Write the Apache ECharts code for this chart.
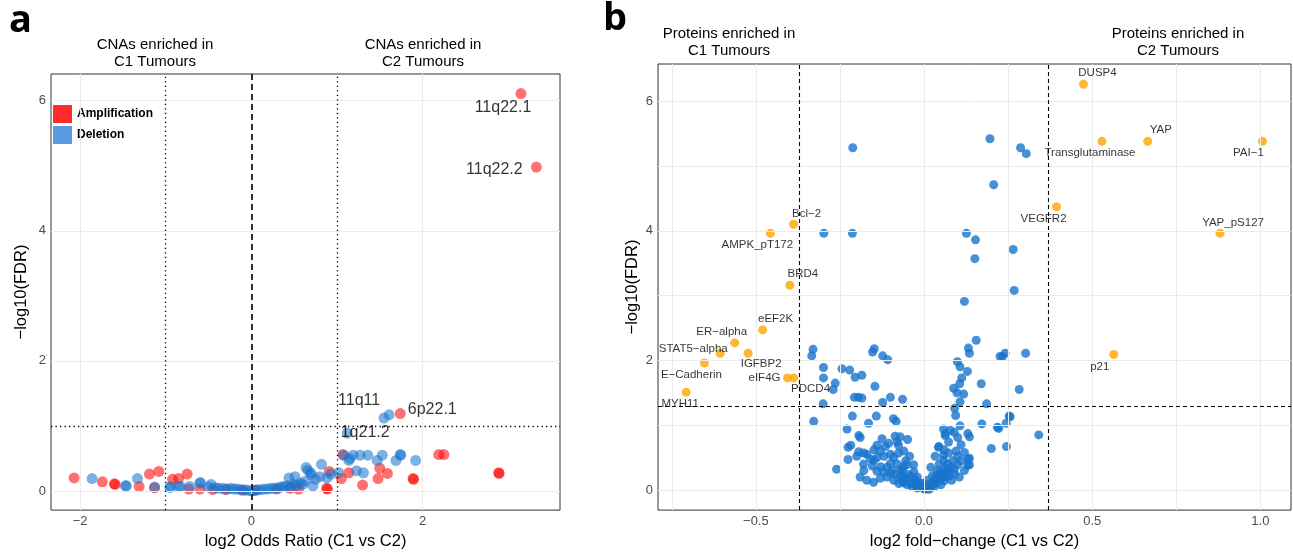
<!DOCTYPE html>
<html>
<head>
<meta charset="utf-8">
<script src="https://cdn.jsdelivr.net/npm/echarts@6/dist/echarts.min.js"></script>
<style>
html, body { margin: 0; padding: 0; background: #fff; }
#chart { width: 1293px; height: 555px; }
</style>
</head>
<body>
<div id="chart"></div>
<script>
// ---- panel a : CNA volcano (log2 odds ratio, -log10 FDR) ----
var ampPoints = [
  [-2.07,0.20],[-1.74,0.14],[-1.60,0.11],[-1.59,0.10],[-1.31,0.07],[-1.19,0.26],[-1.08,0.30],
  [-1.13,0.05],[-0.92,0.18],[-0.85,0.19],[-0.75,0.26],[-0.73,0.03],[-0.60,0.03],[-0.45,0.02],
  [-0.30,0.02],[-0.10,0.01],[0.05,0.01],[0.30,0.03],[0.45,0.04],[0.55,0.03],[0.88,0.04],
  [0.89,0.03],[0.91,0.30],[1.05,0.19],[1.07,0.56],[1.14,0.28],[1.30,0.09],[1.48,0.19],
  [1.50,0.35],[1.59,0.27],[1.74,1.19],[1.89,0.19],[1.895,0.18],[2.19,0.56],[2.25,0.56],
  [2.89,0.28],[2.895,0.27],[3.15,6.11],[3.33,4.98]
];
var delPoints = [
  [-1.86,0.19],[-1.47,0.08],[-1.46,0.08],[-1.33,0.19],[-1.13,0.06],[-0.95,0.05],[-0.945,0.07],
  [-0.85,0.07],[-0.83,0.07],[-0.72,0.07],[-0.60,0.12],[-0.595,0.13],[-0.50,0.06],[-0.47,0.10],
  [-0.42,0.05],[-0.38,0.04],[-0.33,0.04],[-0.28,0.03],[-0.24,0.04],[-0.20,0.03],[-0.16,0.03],
  [-0.12,0.02],[-0.08,0.02],[-0.04,0.01],[0,0],[0.03,0.01],[0.07,0.02],[0.11,0.02],[0.15,0.03],
  [0.19,0.03],[0.23,0.04],[0.27,0.04],[0.31,0.05],[0.35,0.06],[0.38,0.07],[0.42,0.08],[0.44,0.20],
  [0.46,0.06],[0.50,0.10],[0.51,0.22],[0.53,0.08],[0.57,0.12],[0.60,0.10],[0.63,0.15],[0.64,0.36],
  [0.66,0.32],[0.69,0.28],[0.70,0.25],[0.72,0.08],[0.75,0.18],[0.80,0.22],[0.82,0.41],[0.885,0.20],
  [0.93,0.26],[1.02,0.28],[1.08,0.55],[1.12,0.89],[1.14,0.47],[1.15,0.50],[1.19,0.55],[1.23,0.31],
  [1.27,0.55],[1.31,0.28],[1.36,0.55],[1.47,0.47],[1.53,0.55],[1.55,1.12],[1.61,1.17],[1.69,0.47],
  [1.74,0.56],[1.745,0.55],[1.92,0.47]
];
var cnaLabelNames = ['11q22.1', '11q22.2', '6p22.1', '11q11', '1q21.2'];
var cnaLabelX = [3.15, 3.33, 1.74, 1.61, 1.12];
var cnaLabelY = [6.11, 4.98, 1.19, 1.17, 0.89];
var aTicksX = [-2, 0, 2];
var aTicksY = [0, 2, 4, 6];

// ---- panel b : protein volcano (log2 fold-change, -log10 FDR) ----
var protNames = ['DUSP4','Transglutaminase','YAP','PAI\u22121','VEGFR2','YAP_pS127','p21',
  'Bcl\u22122','AMPK_pT172','BRD4','eEF2K','ER\u2212alpha','STAT5\u2212alpha','IGFBP2',
  'E\u2212Cadherin','eIF4G','PDCD4','MYH11'];
var protX = [0.474,0.529,0.665,1.006,0.394,0.880,0.564,-0.388,-0.457,-0.399,-0.480,-0.563,-0.606,-0.523,-0.653,-0.406,-0.388,-0.707];
var protY = [6.26,5.38,5.38,5.38,4.37,3.96,2.09,4.10,3.96,3.16,2.47,2.27,2.11,2.11,1.96,1.73,1.73,1.51];
var otherProteins = [
  [-0.212,5.28],[0.196,5.42],[0.287,5.28],[0.304,5.19],[0.207,4.71],
  [-0.298,3.96],[-0.213,3.96],[0.126,3.96],[0.153,3.86],[0.265,3.71],[0.151,3.57],[0.268,3.08],[0.120,2.91],
  [0.155,2.31],[0.132,2.19],[0.135,2.11],[0.241,2.11],[0.233,2.06],[0.226,2.06],[0.302,2.11],[0.099,1.98],
  [0.107,1.90],[0.129,1.83],[0.112,1.73],[0.106,1.64],[0.170,1.64],[0.088,1.57],[0.098,1.50],[0.118,1.48],
  [0.283,1.55],[0.107,1.36],[0.186,1.33],[0.091,1.26],[0.094,1.15],[0.253,1.14],[0.256,1.13],[0.172,1.02],
  [0.107,0.99],[0.244,1.03],[0.222,0.95],[0.218,0.97],[0.341,0.85],[0.200,0.64],[0.245,0.67],
  [-0.330,2.17],[-0.334,2.07],[-0.153,2.13],[-0.148,2.18],[-0.123,2.07],[-0.108,2.01],[-0.299,1.89],
  [-0.244,1.87],[-0.221,1.85],[-0.299,1.73],[-0.205,1.74],[-0.185,1.77],[-0.264,1.65],[-0.270,1.55],
  [-0.146,1.60],[-0.207,1.43],[-0.195,1.43],[-0.185,1.42],[-0.100,1.43],[-0.064,1.40],[-0.123,1.35],
  [-0.300,1.33],[-0.328,1.06],[-0.213,1.14],[-0.142,1.14],[-0.165,1.03],[-0.091,1.10],[-0.083,1.06],
  [-0.229,0.94],
  [-0.194,0.84],[-0.190,0.81],[-0.125,0.79],[-0.086,0.83],[-0.071,0.82],[-0.080,0.74],[-0.049,0.78],
  [-0.218,0.69],[-0.226,0.66],[-0.140,0.69],[-0.115,0.67],[-0.105,0.72],[-0.076,0.69],[-0.194,0.59],
  [-0.179,0.57],[-0.149,0.62],[-0.119,0.52],[-0.076,0.57],[-0.043,0.52],[-0.226,0.47],[-0.260,0.32],
  [-0.179,0.30],[-0.149,0.46],[-0.154,0.37],[-0.129,0.36],[-0.100,0.41],[-0.140,0.29],[-0.100,0.26],
  [-0.085,0.24],[-0.071,0.31],[-0.061,0.36],[-0.031,0.39],[-0.064,0.14],[-0.041,0.21],[-0.026,0.16],
  [-0.012,0.11],[0.003,0.01],[-0.061,0.11],[-0.046,0.24],[-0.051,0.39],[-0.064,0.31],
  [0.018,0.06],[0.033,0.16],[0.048,0.24],[0.063,0.34],[0.058,0.46],[0.073,0.57],[0.044,0.67],[0.058,0.94],
  [0.063,0.87],[0.073,0.31],[0.078,0.92],[0.063,0.84],[0.073,0.74],[0.090,0.89],[0.100,0.81],[0.130,0.87],
  [0.135,0.82],[0.043,0.66],[0.033,0.52],[0.058,0.54],[0.100,0.52],[0.135,0.49],[0.135,0.39],[0.100,0.39],
  [0.082,0.15],[0.068,0.24],[0.090,0.25],[0.130,0.48],[0.130,0.38],
  [-0.110,0.20],[-0.090,0.15],[-0.070,0.22],[-0.050,0.08],[-0.035,0.05],[-0.020,0.03],[-0.010,0.05],
  [0.000,0.02],[0.010,0.03],[0.020,0.10],[0.030,0.05],[0.040,0.12],[0.050,0.18],[0.025,0.22],[0.040,0.30],
  [0.055,0.28],[0.070,0.40],[0.085,0.45],[0.045,0.40],[-0.020,0.20],[-0.030,0.28],[0.010,0.15],
  [-0.055,0.45],[-0.090,0.50],[-0.160,0.48],[-0.170,0.55],[-0.200,0.52],[-0.130,0.60],
  [-0.150,0.12],[-0.130,0.18],[-0.120,0.28],[-0.110,0.35],[-0.095,0.30],[-0.080,0.40],[-0.075,0.10],
  [-0.060,0.20],[-0.050,0.16],[-0.040,0.10],[-0.030,0.13],[-0.025,0.08],[-0.015,0.06],[-0.005,0.10],
  [0.005,0.07],[0.015,0.01],[0.020,0.04],[0.030,0.10],[0.035,0.20],[0.045,0.26],[0.050,0.08],
  [0.060,0.14],[0.065,0.20],[0.075,0.22],[0.080,0.35],[0.090,0.32],[0.095,0.60],[0.110,0.45],
  [0.120,0.30],[-0.180,0.40],[-0.190,0.20],[-0.170,0.15],[-0.140,0.50],[-0.100,0.55],[-0.060,0.60],
  [0.020,0.35],[0.060,0.62],[0.110,0.70],[0.120,0.58],[0.105,0.20]
];
var bTicksX = [-0.5, 0, 0.5, 1.0];
var bGridX = [-0.75, -0.5, -0.25, 0, 0.25, 0.5, 0.75, 1.0];
var bTicksY = [0, 2, 4, 6];
var bGridY = [0, 1, 2, 3, 4, 5, 6];

// label nudges (px) so the texts sit like the ggrepel ones
var cnaLabelOffset = [[-18, 14], [-42, 3], [32, -4], [-30, -14], [18, 0]];
var protLabelOffset = {
  'DUSP4': [14, -11], 'Transglutaminase': [-12, 12], 'YAP': [13, -11], 'PAI\u22121': [-14, 12],
  'VEGFR2': [-13, 12], 'YAP_pS127': [13, -11], 'p21': [-14, 12], 'Bcl\u22122': [13, -10],
  'AMPK_pT172': [-13, 11], 'BRD4': [13, -11], 'eEF2K': [13, -11], 'ER\u2212alpha': [-13, -11],
  'STAT5\u2212alpha': [-27, -4], 'IGFBP2': [13, 11], 'E\u2212Cadherin': [-13, 12],
  'eIF4G': [-23, 0], 'PDCD4': [17, 11], 'MYH11': [-6, 12]
};

function minus(v, digits) {
  var s = digits ? Math.abs(v).toFixed(digits) : String(Math.abs(v));
  return (v < 0 ? '\u2212' : '') + s;
}

var FONT = '"Liberation Sans", Arial, sans-serif';
var myChart = echarts.init(document.getElementById('chart'));

function gridLines(xs, ys) {
  var d = [];
  xs.forEach(function (v) { d.push({ xAxis: v }); });
  ys.forEach(function (v) { d.push({ yAxis: v }); });
  return d;
}

function axisX(grid, min, max, ticks, digits, name, gap) {
  return {
    type: 'value', gridIndex: grid, min: min, max: max,
    name: name, nameLocation: 'middle', nameGap: gap,
    nameTextStyle: { fontFamily: FONT, fontSize: 16.5, color: '#000' },
    axisLine: { show: false },
    splitLine: { show: false },
    axisTick: { show: true, length: 4, customValues: ticks, lineStyle: { color: '#333' } },
    axisLabel: {
      customValues: ticks, margin: 5, color: '#4D4D4D', fontSize: 13, fontFamily: FONT,
      formatter: function (v) { return minus(v, digits); }
    }
  };
}
function axisY(grid, min, max, ticks, gap) {
  return {
    type: 'value', gridIndex: grid, min: min, max: max,
    name: '\u2212log10(FDR)', nameLocation: 'middle', nameGap: gap, nameRotate: 90,
    nameTextStyle: { fontFamily: FONT, fontSize: 16.5, color: '#000' },
    axisLine: { show: false },
    splitLine: { show: false },
    axisTick: { show: true, length: 4, customValues: ticks, lineStyle: { color: '#333' } },
    axisLabel: {
      customValues: ticks, margin: 5, color: '#4D4D4D', fontSize: 13, fontFamily: FONT,
      formatter: function (v) { return minus(v); }
    }
  };
}

var dotted = { color: '#000', width: 1.3, type: [1.3, 3.2] };
var dashedA = { color: '#000', width: 1.6, type: [6, 4] };
var dashedB = { color: '#000', width: 1.1, type: [4, 3] };

var option = {
  animation: false,
  backgroundColor: '#fff',
  textStyle: { fontFamily: FONT },
  grid: [
    { left: 51, top: 74, right: 733, bottom: 39, show: true, borderColor: '#333', borderWidth: 1, backgroundColor: '#fff' },
    { left: 658, top: 64, right: 2, bottom: 37, show: true, borderColor: '#333', borderWidth: 1, backgroundColor: '#fff' }
  ],
  xAxis: [
    axisX(0, -2.34, 3.606, aTicksX, 0, 'log2 Odds Ratio (C1 vs C2)', 22),
    axisX(1, -0.791, 1.091, bTicksX, 1, 'log2 fold\u2212change (C1 vs C2)', 20)
  ],
  yAxis: [
    axisY(0, -0.294, 6.41, aTicksY, 21),
    axisY(1, -0.31, 6.573, bTicksY, 17)
  ],
  legend: {
    data: [
      { name: 'Amplification', itemStyle: { color: '#FF2A2A', opacity: 1 } },
      { name: 'Deletion', itemStyle: { color: '#5B9BE0', opacity: 1 } }
    ],
    orient: 'vertical', left: 53, top: 105, padding: 0, itemWidth: 19, itemHeight: 18, itemGap: 3,
    icon: 'rect', selectedMode: false,
    textStyle: { fontFamily: FONT, fontWeight: 'bold', fontSize: 12, color: '#000' }
  },
  graphic: [
    { type: 'text', left: 9, top: 2, style: { text: 'a', font: 'bold 38px "Open Sans", "Liberation Sans", sans-serif', fill: '#000' } },
    { type: 'text', left: 603, top: 0, style: { text: 'b', font: 'bold 38px "Open Sans", "Liberation Sans", sans-serif', fill: '#000' } },
    { type: 'text', x: 155, y: 36, style: { text: 'CNAs enriched in\nC1 Tumours', align: 'center', lineHeight: 17, font: '15px ' + FONT, fill: '#000' } },
    { type: 'text', x: 423, y: 36, style: { text: 'CNAs enriched in\nC2 Tumours', align: 'center', lineHeight: 17, font: '15px ' + FONT, fill: '#000' } },
    { type: 'text', x: 729, y: 25, style: { text: 'Proteins enriched in\nC1 Tumours', align: 'center', lineHeight: 17, font: '15px ' + FONT, fill: '#000' } },
    { type: 'text', x: 1178, y: 25, style: { text: 'Proteins enriched in\nC2 Tumours', align: 'center', lineHeight: 17, font: '15px ' + FONT, fill: '#000' } }
  ],
  series: [
    { // panel a grid lines
      type: 'scatter', xAxisIndex: 0, yAxisIndex: 0, data: [], z: 1, silent: true,
      markLine: { silent: true, symbol: ['none', 'none'], label: { show: false },
        lineStyle: { color: '#EBEBEB', width: 1.2, type: 'solid' },
        data: gridLines(aTicksX, aTicksY) }
    },
    {
      name: 'Amplification', type: 'scatter', xAxisIndex: 0, yAxisIndex: 0, z: 2,
      symbolSize: 11, itemStyle: { color: 'rgba(255,0,0,0.7)' }, data: ampPoints
    },
    {
      name: 'Deletion', type: 'scatter', xAxisIndex: 0, yAxisIndex: 0, z: 2,
      symbolSize: 11, itemStyle: { color: 'rgba(24,116,205,0.7)' }, data: delPoints
    },
    { // panel a reference lines
      type: 'scatter', xAxisIndex: 0, yAxisIndex: 0, data: [], z: 4, silent: true,
      markLine: { silent: true, symbol: ['none', 'none'], label: { show: false },
        data: [
          { xAxis: -1, lineStyle: dotted }, { xAxis: 1, lineStyle: dotted },
          { xAxis: 0, lineStyle: dashedA }, { yAxis: 1, lineStyle: dotted }
        ] }
    },
    { // panel a labels
      type: 'scatter', xAxisIndex: 0, yAxisIndex: 0, z: 5, silent: true,
      symbolSize: 1, itemStyle: { color: 'rgba(0,0,0,0)' },
      label: { show: true, position: 'inside', color: '#000', fontSize: 16, fontFamily: FONT,
        formatter: function (p) { return p.name; } },
      data: cnaLabelNames.map(function (n, i) {
        return { name: n, value: [cnaLabelX[i], cnaLabelY[i]], label: { offset: cnaLabelOffset[i] } };
      })
    },
    { // panel b grid lines
      type: 'scatter', xAxisIndex: 1, yAxisIndex: 1, data: [], z: 1, silent: true,
      markLine: { silent: true, symbol: ['none', 'none'], label: { show: false },
        lineStyle: { color: '#EBEBEB', width: 1, type: 'solid' },
        data: gridLines(bGridX, bGridY) }
    },
    {
      type: 'scatter', xAxisIndex: 1, yAxisIndex: 1, z: 2,
      symbolSize: 9, itemStyle: { color: '#1874CD' }, data: otherProteins
    },
    { // panel b reference lines
      type: 'scatter', xAxisIndex: 1, yAxisIndex: 1, data: [], z: 3, silent: true,
      markLine: { silent: true, symbol: ['none', 'none'], label: { show: false },
        data: [
          { xAxis: -0.37, lineStyle: dashedB }, { xAxis: 0.37, lineStyle: dashedB },
          { yAxis: 1.301, lineStyle: dashedB }
        ] }
    },
    {
      type: 'scatter', xAxisIndex: 1, yAxisIndex: 1, z: 4,
      symbolSize: 9, itemStyle: { color: '#FFA500' }, data: protNames.map(function (n, i) {
        return { name: n, value: [protX[i], protY[i]] };
      })
    },
    { // panel b labels, drawn above the points
      type: 'scatter', xAxisIndex: 1, yAxisIndex: 1, z: 5, silent: true,
      symbolSize: 1, itemStyle: { color: 'rgba(0,0,0,0)' },
      label: { show: true, position: 'inside', color: '#000', fontSize: 11.5, fontFamily: FONT,
        formatter: function (p) { return p.name; } },
      data: protNames.map(function (n, i) {
        return { name: n, value: [protX[i], protY[i]], label: { offset: protLabelOffset[n] } };
      })
    }
  ]
};

myChart.setOption(option);
</script>
</body>
</html>
